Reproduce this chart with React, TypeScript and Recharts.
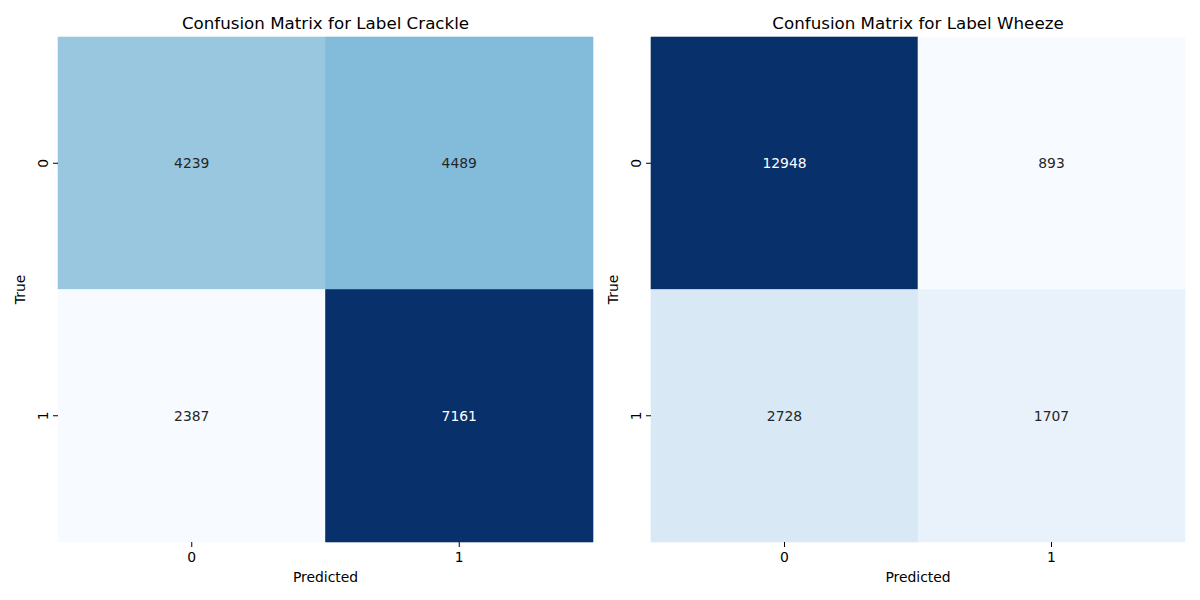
import { ReferenceArea, Scatter, ScatterChart, XAxis, YAxis } from "recharts";

const CLASSES = ["0", "1"];
const CRACKLE = [
  [4239, 4489],
  [2387, 7161],
];
const WHEEZE = [
  [12948, 893],
  [2728, 1707],
];

const BLUES = ["#f7fbff", "#deebf7", "#c6dbef", "#9ecae1", "#6baed6", "#4292c6", "#2171b5", "#08519c", "#08306b"];
const FONT = "DejaVu Sans, sans-serif";

const hex = (h: string) => [1, 3, 5].map((i) => parseInt(h.slice(i, i + 2), 16));

function blues(t: number) {
  const s = Math.max(0, Math.min(1, t)) * (BLUES.length - 1);
  const i = Math.min(Math.floor(s), BLUES.length - 2);
  const f = s - i;
  const a = hex(BLUES[i]);
  const b = hex(BLUES[i + 1]);
  const c = a.map((v, k) => Math.round(v + (b[k] - v) * f));
  return { css: `rgb(${c.join(",")})`, rgb: c };
}

function luminance(rgb: number[]) {
  const lin = rgb.map((v) => {
    const c = v / 255;
    return c <= 0.03928 ? c / 12.92 : Math.pow((c + 0.055) / 1.055, 2.4);
  });
  return 0.2126 * lin[0] + 0.7152 * lin[1] + 0.0722 * lin[2];
}

function YTick({ x, y, payload }: any) {
  return (
    <text x={x} y={y} transform={`rotate(-90 ${x} ${y})`} textAnchor="middle" fontSize={13.9} fill="#000">
      {CLASSES[Math.floor(payload.value)]}
    </text>
  );
}

function Heatmap({ title, matrix, left, right }: { title: string; matrix: number[][]; left: number; right: number }) {
  const flat = matrix.flat();
  const vmin = Math.min(...flat);
  const vmax = Math.max(...flat);
  const cells = matrix.flatMap((row, r) =>
    row.map((value, c) => {
      const col = blues((value - vmin) / (vmax - vmin));
      return {
        x: c + 0.5,
        y: r + 0.5,
        c,
        r,
        value,
        fill: col.css,
        text: luminance(col.rgb) > 0.408 ? "#262626" : "#ffffff",
      };
    })
  );

  return (
    <div style={{ position: "relative", width: 600, height: 600 }}>
      <div
        style={{
          position: "absolute",
          top: 13,
          left: left + 30,
          width: 600 - left - 30 - right,
          textAlign: "center",
          fontSize: 16.7,
          lineHeight: "20px",
          color: "#000",
        }}
      >
        {title}
      </div>
      <ScatterChart width={600} height={600} margin={{ top: 37, right, bottom: 28, left }}>
        <XAxis
          type="number"
          dataKey="x"
          domain={[0, 2]}
          ticks={[0.5, 1.5]}
          tickFormatter={(v) => CLASSES[Math.floor(v)]}
          axisLine={false}
          tickSize={5}
          tickMargin={5}
          height={30}
          tick={{ fill: "#000", fontSize: 13.9 }}
          tickLine={{ stroke: "#000" }}
          label={{
            content: ({ viewBox }: any) => (
              <text x={viewBox.x + viewBox.width / 2} y={viewBox.y + 35} textAnchor="middle" dominantBaseline="central" fontSize={13.9} fill="#000">
                Predicted
              </text>
            ),
          }}
        />
        <YAxis
          type="number"
          dataKey="y"
          domain={[0, 2]}
          reversed
          ticks={[0.5, 1.5]}
          axisLine={false}
          tickSize={5}
          tickMargin={5}
          width={30}
          tick={<YTick />}
          tickLine={{ stroke: "#000" }}
          label={{
            content: ({ viewBox }: any) => {
              const x = viewBox.x - 8;
              const y = viewBox.y + viewBox.height / 2;
              return (
                <text x={x} y={y} transform={`rotate(-90 ${x} ${y})`} textAnchor="middle" dominantBaseline="central" fontSize={13.9} fill="#000">
                  True
                </text>
              );
            },
          }}
        />
        {cells.map((d) => (
          <ReferenceArea
            key={`${d.r}-${d.c}`}
            x1={d.c}
            x2={d.c + 1}
            y1={d.r}
            y2={d.r + 1}
            fill={d.fill}
            fillOpacity={1}
            stroke={d.fill}
            strokeWidth={0.6}
            strokeOpacity={1}
          />
        ))}
        <Scatter
          data={cells}
          isAnimationActive={false}
          shape={(p: any) => (
            <text x={p.cx} y={p.cy} textAnchor="middle" dominantBaseline="central" fontSize={13.9} fill={p.payload.text}>
              {p.payload.value}
            </text>
          )}
        />
      </ScatterChart>
    </div>
  );
}

export default function App() {
  return (
    <div
      style={{
        position: "absolute",
        left: 0,
        top: 0,
        width: 1200,
        height: 600,
        display: "flex",
        background: "#fff",
        fontFamily: FONT,
      }}
    >
      <Heatmap title="Confusion Matrix for Label Crackle" matrix={CRACKLE} left={28} right={7} />
      <Heatmap title="Confusion Matrix for Label Wheeze" matrix={WHEEZE} left={21} right={15} />
    </div>
  );
}
